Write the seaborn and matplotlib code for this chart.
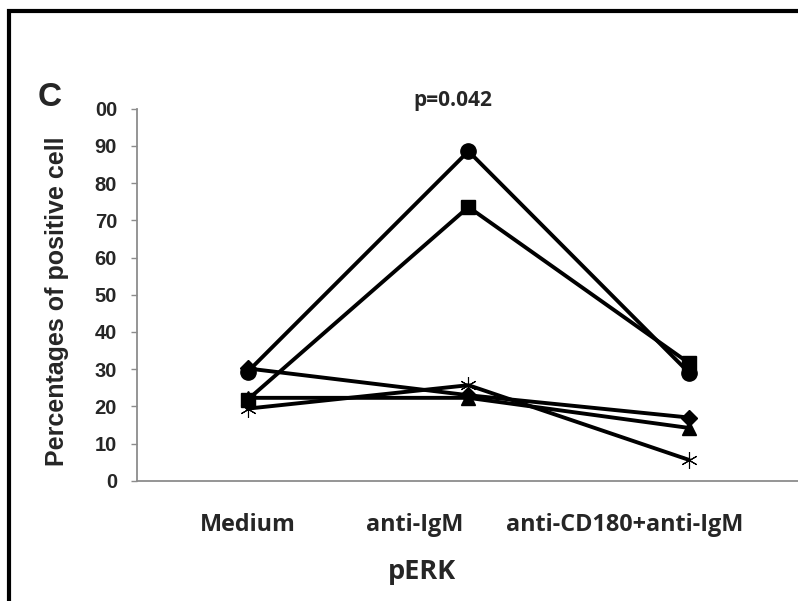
import pandas as pd
import seaborn as sns
import matplotlib.pyplot as plt
from matplotlib.patches import Rectangle

# conditions on the x axis
categories = ['Medium', 'anti-IgM', 'anti-CD180+anti-IgM']

# one line per donor
circle_vals = [29.3, 88.6, 29.0]
square_vals = [21.8, 73.6, 31.6]
diamond_vals = [30.2, 23.0, 17.0]
triangle_vals = [22.3, 22.3, 14.2]
star_vals = [19.4, 25.7, 5.6]

ytick_vals = [0, 10, 20, 30, 40, 50, 60, 70, 80, 90, 100]
ytick_labels = ['0', '10', '20', '30', '40', '50', '60', '70', '80', '90', '00']

# the category labels sit a bit left of the data columns in the original
label_pos = [0.0, 0.755, 1.71]

sns.set_style('white')
plt.rcParams['font.family'] = ['Liberation Sans', 'DejaVu Sans']
calibri_like = ['Open Sans', 'DejaVu Sans']

fig = plt.figure(figsize=(7.98, 6.01), dpi=100)
ax = fig.add_axes([0.172, 0.200, 0.83, 0.619])

series = [
    (circle_vals, 'o', 11, 1),
    (square_vals, 's', 10.5, 1),
    (diamond_vals, 'D', 8.5, 1),
    (triangle_vals, '^', 10, 1),
    (star_vals, (6, 2, 0), 12, 0.8),
]
for vals, mk, ms, mew in series:
    sns.lineplot(x=categories, y=vals, ax=ax, color='black', linewidth=2.8,
                 marker=mk, markersize=ms, markeredgewidth=mew,
                 markeredgecolor='black', markerfacecolor='black', sort=False)

ax.set_xlim(-0.5, 2.5)
ax.set_ylim(0, 100)
ax.set_yticks(ytick_vals)
ax.set_yticklabels(ytick_labels, fontsize=14.5, fontweight='bold')
ax.set_xticks(label_pos)
ax.set_xticklabels(categories, fontsize=16.8, fontweight='bold', family=calibri_like)
ax.tick_params(axis='y', direction='out', length=4.5, width=1, color='#8c8c8c',
               pad=10, left=True)
ax.tick_params(axis='x', length=0, pad=23)

for s in ['top', 'right']:
    ax.spines[s].set_visible(False)
for s in ['left', 'bottom']:
    ax.spines[s].set_color('#8c8c8c')
    ax.spines[s].set_linewidth(1.3)

ax.set_ylabel('')
ax.set_xlabel('')
fig.text(0.071, 0.499, 'Percentages of positive cell', fontsize=18, fontweight='bold',
         rotation=90, ha='center', va='center')
fig.text(0.529, 0.048, 'pERK', fontsize=19.5, fontweight='bold', ha='center',
         va='center', family=calibri_like)

fig.text(0.062, 0.838, 'C', fontsize=24, fontweight='bold', ha='center', va='center')
fig.text(0.568, 0.832, 'p=0.042', fontsize=15, fontweight='bold', ha='center',
         va='center', family=calibri_like)

# panel frame (only top and left edges visible)
fig.add_artist(Rectangle((0.011, -0.1), 1.2, 1.1 - 0.019, transform=fig.transFigure,
                         fill=False, edgecolor='black', linewidth=3, clip_on=False))

fig.savefig('out.png', dpi=100)
